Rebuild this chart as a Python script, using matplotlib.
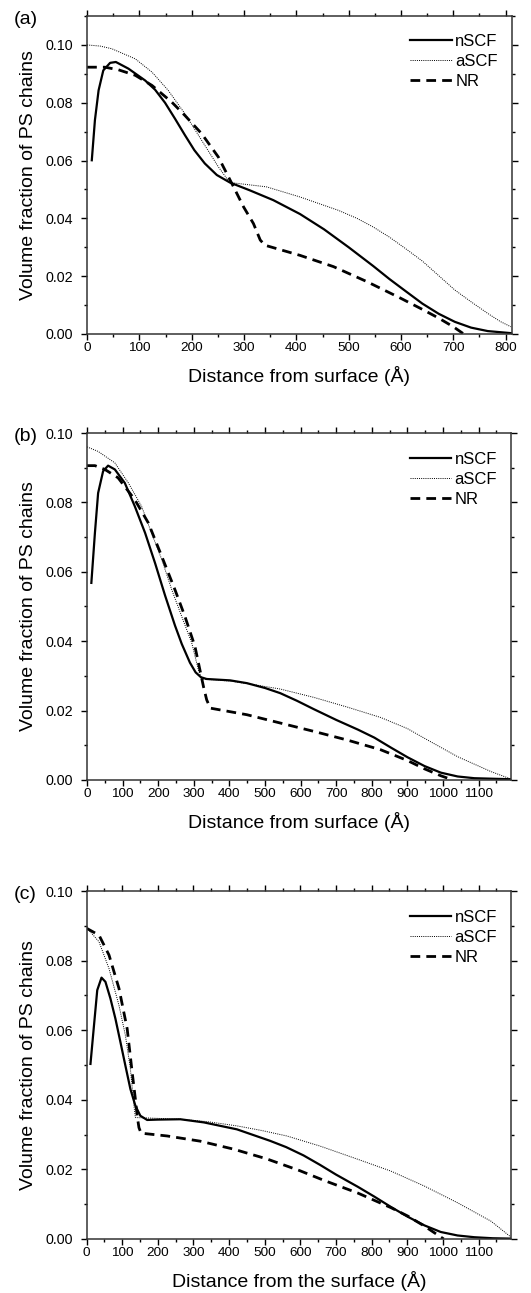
import matplotlib
matplotlib.use("Agg")
import matplotlib.pyplot as plt
from matplotlib.ticker import MultipleLocator, FormatStrFormatter

plt.rcParams['font.family'] = ['Liberation Sans', 'DejaVu Sans']

# ---- panel (a) ----
a_nscf_x = [9, 15, 22, 31, 44, 55, 79, 111, 130, 149, 168, 187, 205, 225, 248, 273, 311, 356, 407, 453, 500, 547, 578, 609, 641, 672, 703, 734, 766, 810]
a_nscf_y = [0.0601, 0.0740, 0.0843, 0.0912, 0.0938, 0.0941, 0.0918, 0.0877, 0.0845, 0.0800, 0.0745, 0.0688, 0.0636, 0.0590, 0.0550, 0.0524, 0.0497, 0.0463, 0.0415, 0.0362, 0.0300, 0.0235, 0.0190, 0.0148, 0.0105, 0.0070, 0.0042, 0.0022, 0.0010, 0.0003]
a_ascf_x = [0, 25, 47, 92, 124, 155, 187, 219, 251, 267, 273, 343, 407, 453, 480, 516, 547, 578, 609, 641, 672, 703, 735, 766, 790, 810]
a_ascf_y = [0.1000, 0.0996, 0.0987, 0.0952, 0.0906, 0.0843, 0.0762, 0.0670, 0.0578, 0.0538, 0.0524, 0.0509, 0.0474, 0.0445, 0.0428, 0.0400, 0.0370, 0.0335, 0.0295, 0.0252, 0.0202, 0.0152, 0.0110, 0.0071, 0.0043, 0.0025]
a_nr_x = [0, 34, 60, 92, 124, 162, 187, 219, 251, 267, 280, 299, 318, 331, 340, 407, 471, 535, 598, 641, 672, 700, 720]
a_nr_y = [0.0923, 0.0923, 0.0914, 0.0895, 0.0860, 0.0802, 0.0756, 0.0693, 0.0612, 0.0555, 0.0509, 0.0440, 0.0382, 0.0325, 0.0307, 0.0272, 0.0233, 0.0181, 0.0125, 0.0085, 0.0055, 0.0025, 0.0000]

# ---- panel (b) ----
b_nscf_x = [12, 22, 31, 45, 59, 78, 106, 134, 163, 191, 219, 247, 266, 289, 305, 320, 336, 402, 449, 500, 543, 590, 637, 700, 761, 807, 854, 901, 948, 994, 1041, 1088, 1190]
b_nscf_y = [0.0568, 0.0712, 0.0827, 0.0890, 0.0906, 0.0895, 0.0856, 0.0789, 0.0712, 0.0625, 0.0532, 0.0445, 0.0392, 0.0338, 0.0310, 0.0296, 0.0291, 0.0287, 0.0279, 0.0265, 0.0250, 0.0228, 0.0204, 0.0173, 0.0145, 0.0122, 0.0093, 0.0065, 0.0040, 0.0021, 0.0010, 0.0005, 0.0002]
b_ascf_x = [0, 31, 78, 116, 153, 181, 210, 238, 266, 294, 313, 322, 402, 449, 543, 637, 731, 825, 900, 948, 1041, 1135, 1190]
b_ascf_y = [0.0960, 0.0947, 0.0914, 0.0856, 0.0789, 0.0712, 0.0635, 0.0548, 0.0471, 0.0395, 0.0316, 0.0291, 0.0285, 0.0278, 0.0262, 0.0238, 0.0210, 0.0180, 0.0148, 0.0120, 0.0067, 0.0024, 0.0003]
b_nr_x = [0, 22, 50, 87, 134, 172, 210, 247, 275, 303, 327, 336, 346, 449, 543, 637, 731, 825, 900, 948, 994, 1027]
b_nr_y = [0.0906, 0.0906, 0.0895, 0.0871, 0.0808, 0.0741, 0.0644, 0.0548, 0.0471, 0.0385, 0.0269, 0.0231, 0.0207, 0.0188, 0.0164, 0.0140, 0.0115, 0.0087, 0.0056, 0.0032, 0.0012, 0.0000]

# ---- panel (c) ----
c_nscf_x = [11, 20, 30, 42, 53, 67, 81, 95, 109, 123, 137, 151, 170, 200, 263, 329, 422, 515, 560, 609, 655, 700, 761, 807, 854, 901, 948, 994, 1041, 1088, 1140, 1190]
c_nscf_y = [0.0503, 0.0604, 0.0715, 0.0751, 0.0739, 0.0691, 0.0633, 0.0566, 0.0498, 0.0431, 0.0383, 0.0354, 0.0342, 0.0343, 0.0344, 0.0335, 0.0315, 0.0282, 0.0264, 0.0240, 0.0213, 0.0185, 0.0150, 0.0122, 0.0092, 0.0064, 0.0039, 0.0020, 0.0010, 0.0005, 0.0002, 0.0001]
c_ascf_x = [0, 35, 63, 91, 109, 123, 133, 137, 263, 340, 422, 490, 562, 655, 761, 854, 948, 1041, 1135, 1190]
c_ascf_y = [0.0895, 0.0854, 0.0777, 0.0671, 0.0585, 0.0489, 0.0383, 0.0349, 0.0344, 0.0337, 0.0325, 0.0312, 0.0296, 0.0267, 0.0229, 0.0195, 0.0152, 0.0104, 0.0051, 0.0006]
c_nr_x = [0, 35, 63, 91, 114, 128, 137, 142, 147, 153, 226, 319, 413, 506, 599, 667, 761, 854, 901, 948, 1002]
c_nr_y = [0.0893, 0.0873, 0.0816, 0.0720, 0.0604, 0.0479, 0.0402, 0.0354, 0.0320, 0.0304, 0.0296, 0.0281, 0.0258, 0.0230, 0.0196, 0.0168, 0.0132, 0.0090, 0.0066, 0.0037, 0.0000]

panels = [
    ("(a)", "Distance from surface (\u00c5)", 812, 0.11, range(0, 801, 100),
     (a_nscf_x, a_nscf_y), (a_ascf_x, a_ascf_y), (a_nr_x, a_nr_y)),
    ("(b)", "Distance from surface (\u00c5)", 1192, 0.10, range(0, 1101, 100),
     (b_nscf_x, b_nscf_y), (b_ascf_x, b_ascf_y), (b_nr_x, b_nr_y)),
    ("(c)", "Distance from the surface (\u00c5)", 1192, 0.10, range(0, 1101, 100),
     (c_nscf_x, c_nscf_y), (c_ascf_x, c_ascf_y), (c_nr_x, c_nr_y)),
]

# axes boxes in figure fraction [left, bottom, width, height]
boxes = [
    [0.164, 0.7417, 0.800, 0.2459],
    [0.164, 0.3968, 0.799, 0.2683],
    [0.163, 0.0418, 0.800, 0.2691],
]

fig = plt.figure(figsize=(5.31, 12.93), dpi=100)

for (tag, xlab, xmax, ymax, xt, ns, asc, nr), box in zip(panels, boxes):
    ax = fig.add_axes(box)
    ax.plot(ns[0], ns[1], color='black', lw=1.6, label='nSCF')
    ax.plot(asc[0], asc[1], color='black', lw=0.7, linestyle=(0, (1, 1.2)), label='aSCF')
    ax.plot(nr[0], nr[1], color='black', lw=2.0, linestyle=(0, (3.5, 2.2)), label='NR')
    ax.set_xlim(0, xmax)
    ax.set_ylim(0, ymax)
    ax.set_xticks(list(xt))
    ax.xaxis.set_minor_locator(MultipleLocator(50))
    ax.yaxis.set_major_locator(MultipleLocator(0.02))
    ax.yaxis.set_minor_locator(MultipleLocator(0.01))
    ax.yaxis.set_major_formatter(FormatStrFormatter('%.2f'))
    ax.tick_params(which='both', direction='out', top=True, right=True, width=1.0)
    ax.tick_params(which='major', length=4)
    ax.tick_params(which='minor', length=2.5)
    ax.tick_params(axis='x', which='major', pad=1.5, labelsize=9.7)
    ax.tick_params(axis='y', which='major', pad=6, labelsize=10.3)
    for s in ax.spines.values():
        s.set_linewidth(1.1)
        s.set_color('#333333')
    ax.set_xlabel(xlab, fontsize=14, labelpad=9)
    ax.set_ylabel("Volume fraction of PS chains", fontsize=14, labelpad=6)
    ax.legend(loc='upper right', frameon=False, fontsize=12, handlelength=2.5,
              handletextpad=0.2, labelspacing=0.3, borderaxespad=0.2,
              bbox_to_anchor=(0.99, 0.975))
    fig.text(0.025, box[1] + box[3] - 0.003, tag, fontsize=14, ha='left', va='center')

fig.savefig("out.png", dpi=100)
